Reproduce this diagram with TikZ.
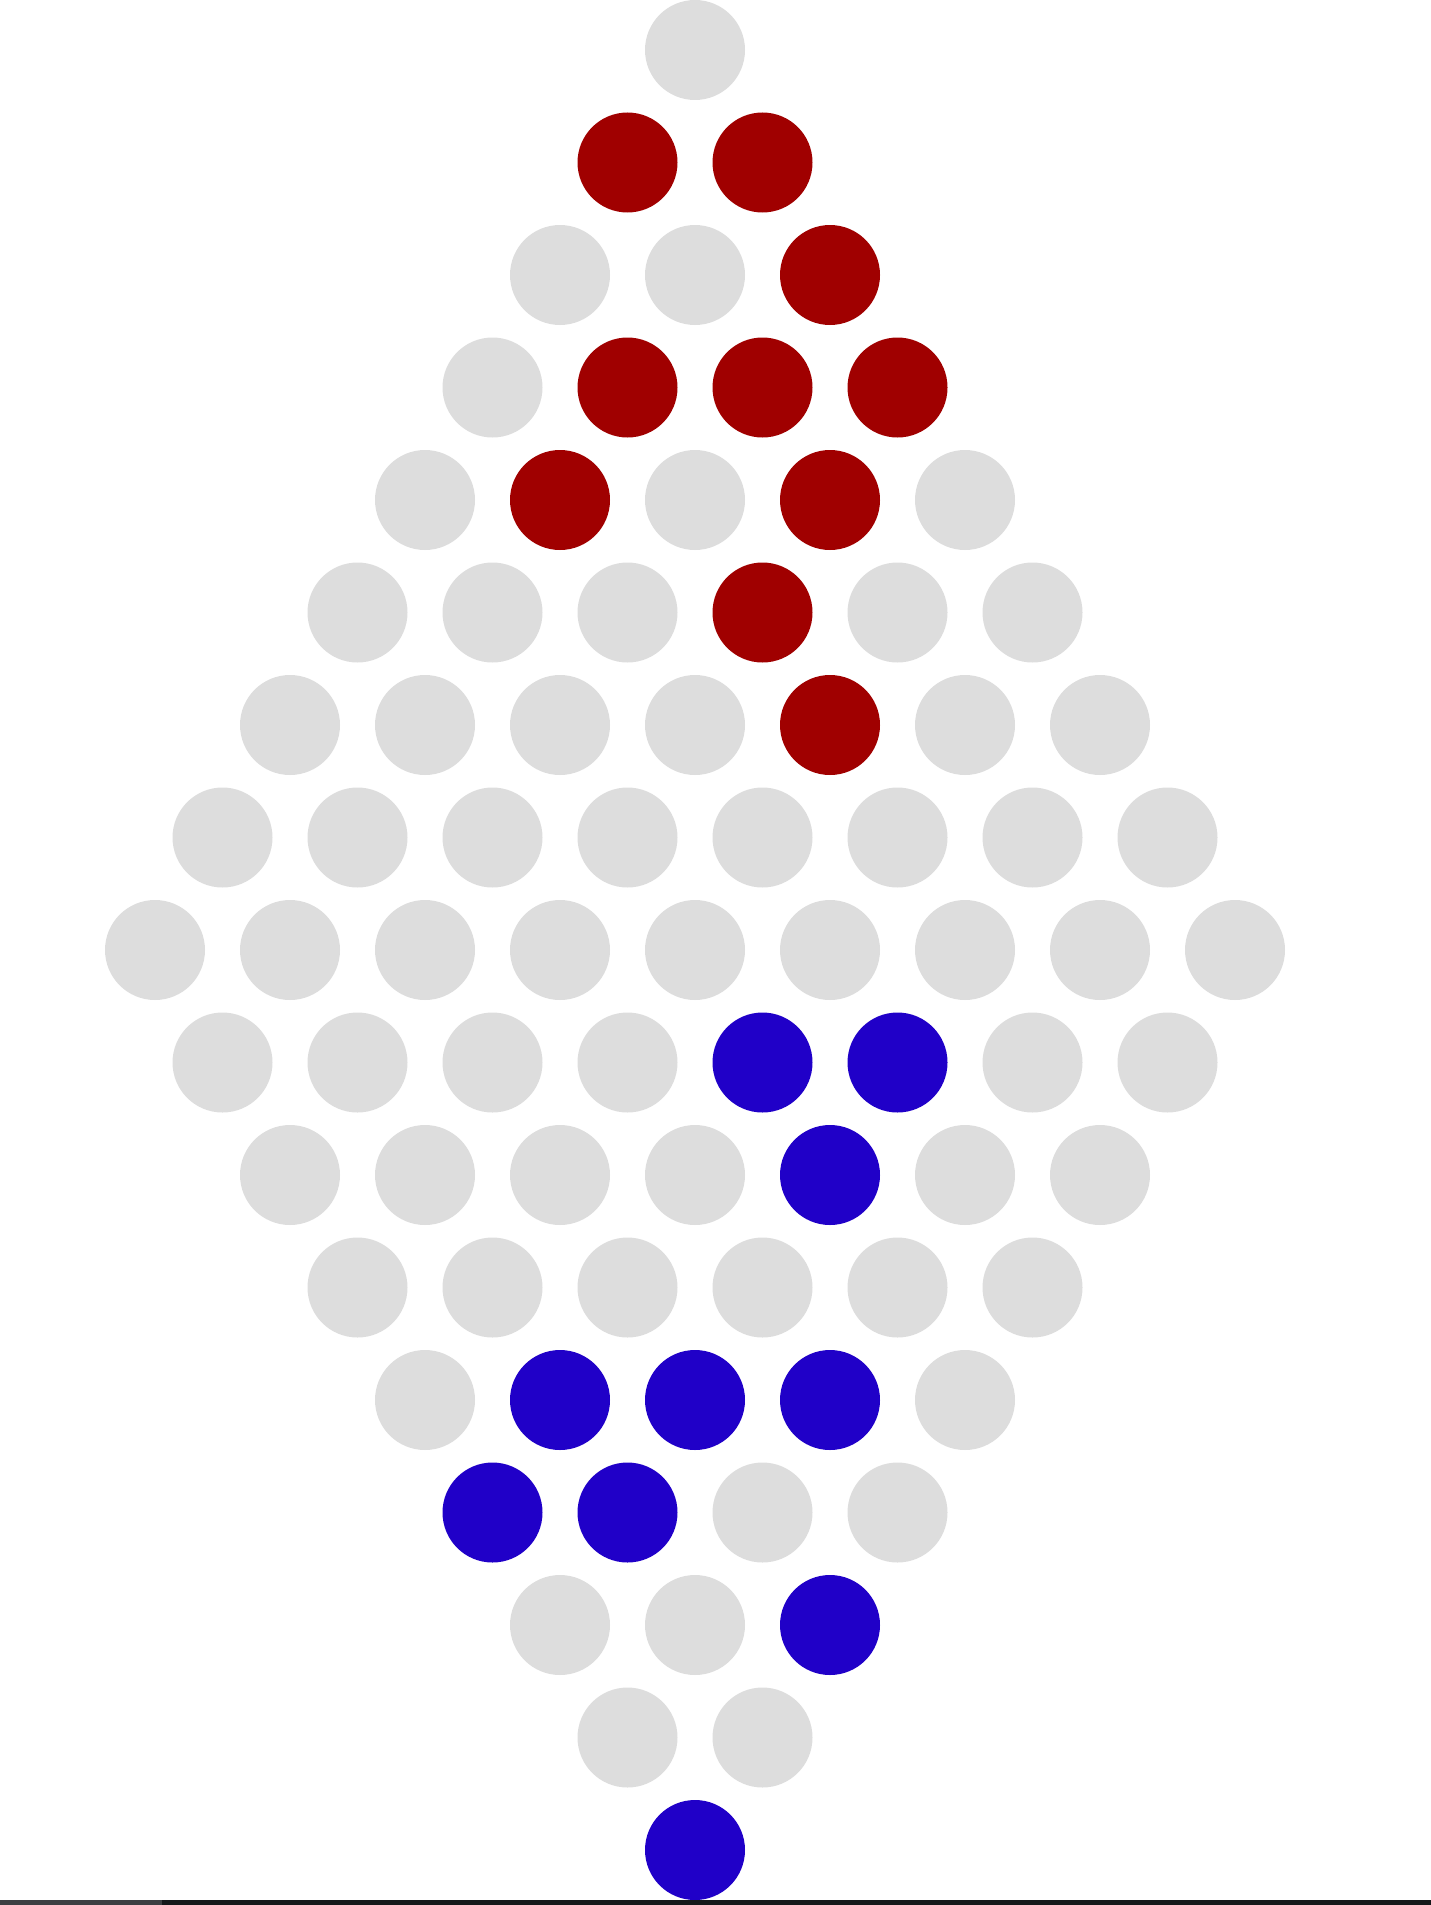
\documentclass[tikz,border=0pt]{standalone}
\usepackage{xcolor}
\usepackage{tikz}
\usetikzlibrary{positioning}

\definecolor{pegGray}{HTML}{DDDDDD}
\definecolor{pegRed}{HTML}{A00000}
\definecolor{pegBlue}{HTML}{2000C8}
\definecolor{barLight}{HTML}{3C3F42}
\definecolor{barDark}{HTML}{15181A}

\begin{document}
\begin{tikzpicture}[x=1pt, y=-1pt,
  peg/.style={circle, inner sep=0pt, minimum size=100pt, draw=none},
  pegg/.style={fill=pegGray},
  pegr/.style={fill=pegRed},
  pegb/.style={fill=pegBlue}]
  \useasboundingbox (0,0) rectangle (1431,1905);
  % rows of the diamond, top to bottom
  \foreach \r/\cl in {0/{g}, 1/{r,r}, 2/{g,g,r}, 3/{g,r,r,r}, 4/{g,r,g,r,g},
      5/{g,g,g,r,g,g}, 6/{g,g,g,g,r,g,g}, 7/{g,g,g,g,g,g,g,g},
      8/{g,g,g,g,g,g,g,g,g}, 9/{g,g,g,g,b,b,g,g}, 10/{g,g,g,g,b,g,g},
      11/{g,g,g,g,g,g}, 12/{g,b,b,b,g}, 13/{b,b,g,g}, 14/{g,g,b},
      15/{g,g}, 16/{b}} {
    \pgfmathsetmacro\n{\r<=8 ? \r+1 : 17-\r}
    \foreach \c [count=\k from 0] in \cl {
      \pgfmathsetmacro\px{695+135*(\k-(\n-1)/2)}
      \pgfmathsetmacro\py{50+112.5*\r}
      \node[peg, peg\c] (p\r-\k) at (\px,\py) {};
    }
  }
  % strip along the lower edge
  \fill[barLight] (0,1900) rectangle (162,1905);
  \fill[barDark] (162,1900) rectangle (1431,1905);
\end{tikzpicture}
\end{document}
